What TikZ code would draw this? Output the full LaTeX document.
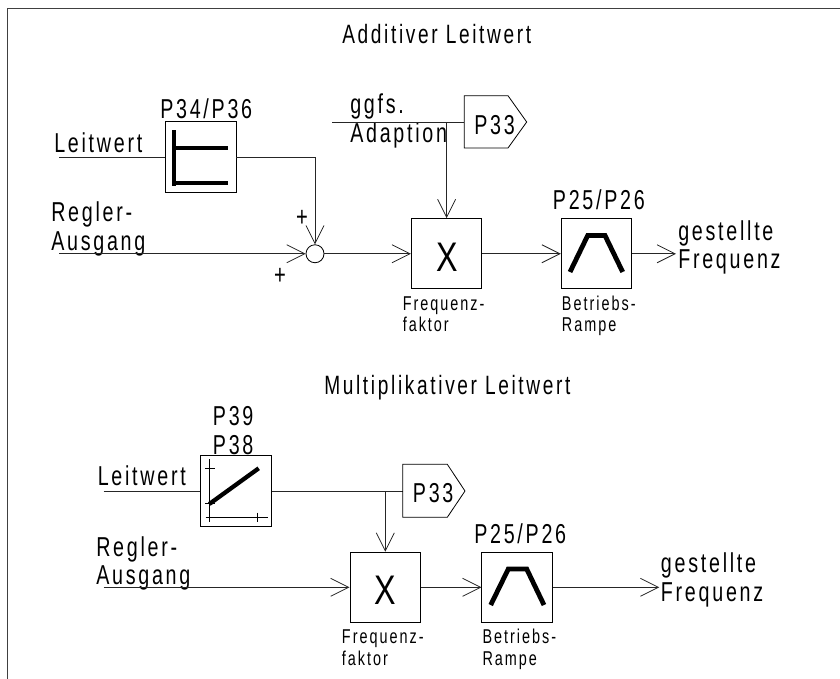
\documentclass[tikz,border=0pt]{standalone}
\usepackage{fontspec}
\setmainfont[FakeStretch=0.72,LetterSpace=10]{Liberation Sans}
\newfontfamily\bigxfont[FakeStretch=0.78]{Liberation Sans}
\usetikzlibrary{arrows.meta}
\tikzset{
  px/.style={x=.75pt,y=-.75pt},
  conn/.style={line width=.75pt,draw=black!85},
  arr/.style={conn,-{Straight Barb[length=13.5pt,width=13.5pt,line width=.6pt]}},
  blockbox/.style={draw,line width=.7pt,minimum width=52.9pt,minimum height=52.7pt,inner sep=0pt},
  thickcurve/.style={line width=3.6pt,line join=miter},
  thincurve/.style={line width=.6pt},
  sumnode/.style={circle,draw,line width=.6pt,minimum size=13.5pt,inner sep=0pt},
  biglabel/.style={anchor=base west,inner sep=0pt,font=\fontsize{20.5}{20.5}\selectfont},
  titlelabel/.style={anchor=base west,inner sep=0pt,font=\fontsize{19.9}{19.9}\selectfont},
  smalllabel/.style={anchor=base west,inner sep=0pt,font=\fontsize{15}{15}\selectfont},
  xlabel/.style={inner sep=0pt,font=\bigxfont\fontsize{31}{31}\selectfont},
  pluslabel/.style={inner sep=0pt,font=\fontsize{21}{21}\selectfont},
  flagshape/.style={draw=black,line width=.6pt,line join=miter}
}
\begin{document}
\begin{tikzpicture}[px]
\useasboundingbox (0,0) rectangle (840,679);
% frame
\draw[line width=.7pt,draw=black!75] (7,679) -- (7,8) -- (840,8);

% ---------- Additiver Leitwert ----------
\node[titlelabel] (t1) at (342,43) {Additiver Leitwert};
\node[blockbox] (fa) at (200.75,157) {};
\node[biglabel] (fal) at (160,118) {P34/P36};
\draw[thickcurve] (174,130) -- (174,185.5);
\draw[thickcurve] (174,148) -- (228,148);
\draw[thickcurve] (174,183) -- (228,183);
\node[biglabel] (lwa) at (54,152) {Leitwert};
\coordinate (lwas) at (59,157);
\draw[conn] (lwas) -- (fa.west);
\node[biglabel] (ra1) at (51,221.5) {Regler-};
\node[biglabel] (ra2) at (51,250) {Ausgang};
\coordinate (ras) at (59,253.75);
\node[sumnode] (sum) at (315,253.75) {};
\draw[arr] (fa.east |- lwas) -| (sum.north);
\draw[arr] (ras) -- (sum.west);
\node[pluslabel] (p1) at (302,218) {+};
\node[pluslabel] (p2) at (280,276) {+};
\node[blockbox] (xa) at (446.6,253.75) {};
\node[xlabel] (xat) at (446.75,257) {X};
\draw[arr] (sum.east) -- (xa.west);
\node[biglabel] (g1) at (350,113) {ggfs.};
\node[biglabel] (g2) at (350,142) {Adaption};
\coordinate (ga) at (332,122);
\coordinate (pa) at (464.3,122);
\coordinate (ja) at (446.6,122);
\draw[conn] (ga) -- (pa);
\draw[flagshape] (pa) -- (464.3,95.7) -- (508,95.7) -- (526.7,122) -- (508,148) -- (464.3,148) -- cycle;
\node[biglabel] (p33a) at (474,134) {P33};
\draw[arr] (ja) -- (xa.north);
\node[smalllabel] (fa1) at (402.5,310) {Frequenz-};
\node[smalllabel] (fa2) at (402.5,331) {faktor};
\node[blockbox] (ra) at (596.5,253.75) {};
\node[biglabel] (ral) at (552.7,209) {P25/P26};
\draw[thickcurve] (570,272) -- (587.7,235.5) -- (605,235.5) -- (622.7,272);
\draw[arr] (xa.east) -- (ra.west);
\coordinate (oa) at (676,253.75);
\draw[arr] (ra.east) -- (oa);
\node[biglabel] (oa1) at (678,240) {gestellte};
\node[biglabel] (oa2) at (678,268) {Frequenz};
\node[smalllabel] (ba1) at (561.7,310) {Betriebs-};
\node[smalllabel] (ba2) at (561.7,331) {Rampe};

% ---------- Multiplikativer Leitwert ----------
\node[titlelabel] (t2) at (324,394) {Multiplikativer Leitwert};
\node[biglabel] (m39) at (212.7,425.7) {P39};
\node[biglabel] (m38) at (212.7,454) {P38};
\node[blockbox] (fm) at (236,491) {};
\draw[thincurve] (209.3,459.3) -- (209.3,521.7);
\draw[thincurve] (205.7,517.3) -- (267.7,517.3);
\draw[thincurve] (205,468.3) -- (215,468.3);
\draw[thincurve] (205,503.3) -- (215,503.3);
\draw[thincurve] (257.7,512.7) -- (257.7,521.7);
\draw[line width=3.2pt] (209.3,504) -- (258.7,468.3);
\node[biglabel] (lwm) at (97.5,485.7) {Leitwert};
\coordinate (lwms) at (103.5,491);
\draw[conn] (lwms) -- (fm.west);
\coordinate (pm) at (402.7,491);
\coordinate (jm) at (385.3,491);
\draw[conn] (fm.east) -- (pm);
\draw[flagshape] (pm) -- (402.7,464.3) -- (447.3,464.3) -- (465,491) -- (447.3,517.3) -- (402.7,517.3) -- cycle;
\node[biglabel] (p33m) at (412.7,502.7) {P33};
\node[blockbox] (xm) at (385.3,587.3) {};
\node[xlabel] (xmt) at (385.3,590.5) {X};
\draw[arr] (jm) -- (xm.north);
\node[biglabel] (rm1) at (96,556) {Regler-};
\node[biglabel] (rm2) at (96,584.3) {Ausgang};
\coordinate (rms) at (103.5,587.3);
\draw[arr] (rms) -- (xm.west);
\node[smalllabel] (fm1) at (341.7,643.3) {Frequenz-};
\node[smalllabel] (fm2) at (341.7,665) {faktor};
\node[blockbox] (rm) at (517.2,587.3) {};
\node[biglabel] (rml) at (474,543.3) {P25/P26};
\draw[thickcurve] (490.7,605) -- (508.3,569) -- (526.7,569) -- (544,605);
\draw[arr] (xm.east) -- (rm.west);
\coordinate (om) at (659.3,587.3);
\draw[arr] (rm.east) -- (om);
\node[biglabel] (om1) at (660.7,572.7) {gestellte};
\node[biglabel] (om2) at (660.7,601.7) {Frequenz};
\node[smalllabel] (bm1) at (482.3,643.3) {Betriebs-};
\node[smalllabel] (bm2) at (482.3,665) {Rampe};
\end{tikzpicture}
\end{document}
